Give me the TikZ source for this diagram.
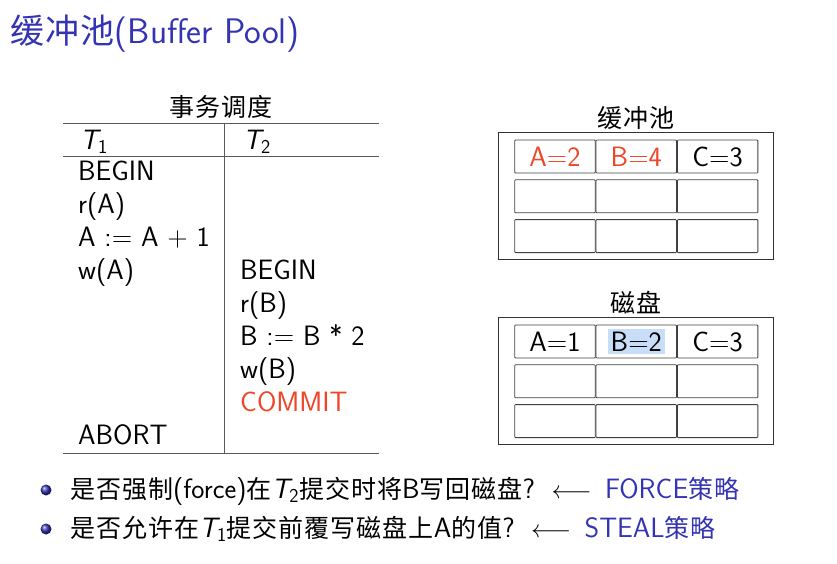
\documentclass[tikz,border=0pt]{standalone}
\usepackage{fontspec}
\usetikzlibrary{positioning}
\newfontfamily\cjk[LetterSpace=4]{Noto Sans CJK SC}
\definecolor{slideblue}{RGB}{51,51,179}
\definecolor{alertred}{RGB}{238,70,40}
\definecolor{selblue}{RGB}{200,222,248}
\tikzset{
  slidetitle/.style={anchor=base west, inner sep=0pt, text=slideblue, font=\sffamily\fontsize{35.5}{40}\selectfont},
  body/.style={anchor=base west, inner sep=0pt, font=\sffamily\fontsize{28}{33}\selectfont},
  caption/.style={inner sep=0pt, font=\fontsize{25}{30}\selectfont\cjk},
  rule/.style={draw=black!65, line width=1pt},
  frame/.style={draw=black!80, line width=1pt},
  cell/.style={draw=black!75, line width=0.8pt, rounded corners=0.8pt, minimum width=80.5pt, minimum height=33pt, inner sep=0pt, font=\sffamily\fontsize{28}{33}\selectfont},
  ballitem/.style={circle, ball color=slideblue, minimum size=11pt, inner sep=0pt}
}
\newcommand\zh[1]{{\cjk\fontsize{25}{30}\selectfont #1}}
\begin{document}
\begin{tikzpicture}[x=1pt,y=-1pt]
\useasboundingbox (0,0) rectangle (837,563);
% title
\node[slidetitle] (title) at (10,43) {{\cjk\fontsize{34}{40}\selectfont 缓冲池}(Buffer Pool)};
% schedule
\node[caption] (schedcap) at (221,107) {事务调度};
\draw[rule] (63,123) -- (379,123);
\draw[rule] (63,156) -- (379,156);
\draw[rule] (63,453) -- (379,453);
\draw[rule] (224,123) -- (224,453);
\node[body] (hdone) at (80,149) {{\itshape T}\textsubscript{1}};
\node[body] (hdtwo) at (243,149) {{\itshape T}\textsubscript{2}};
\node[body] (beginA) at (78,180) {BEGIN};
\node[body] (readA) at (78,213) {r(A)};
\node[body] (incA) at (78,246) {A := A + 1};
\node[body] (writeA) at (78,279) {w(A)};
\node[body] (abort) at (78,444) {ABORT};
\node[body] (beginB) at (240,279) {BEGIN};
\node[body] (readB) at (240,312) {r(B)};
\node[body] (dblB) at (240,345) {B := B * 2};
\node[body] (writeB) at (240,378) {w(B)};
\node[body, text=alertred] (commit) at (240,411) {COMMIT};
% buffer pool
\node[caption] (bufcap) at (636,118) {缓冲池};
\draw[frame] (498,132) rectangle (773,259);
\node[cell, text=alertred] (bufA) at (555,156.5) {A=2};
\node[cell, text=alertred, right=0pt of bufA] (bufB) {B=4};
\node[cell, right=0pt of bufB] (bufC) {C=3};
\node[cell, below=6pt of bufA] (bufD) {};
\node[cell, right=0pt of bufD] (bufE) {};
\node[cell, right=0pt of bufE] (bufF) {};
\node[cell, below=6pt of bufD] (bufG) {};
\node[cell, right=0pt of bufG] (bufH) {};
\node[cell, right=0pt of bufH] (bufI) {};
% disk
\node[caption] (dskcap) at (636,303) {磁盘};
\draw[frame] (498,317) rectangle (773,444);
\node[cell] (dskA) at (555,341.5) {A=1};
\node[cell, right=0pt of dskA] (dskB) {\fboxsep=3pt\colorbox{selblue}{B=2}};
\node[cell, right=0pt of dskB] (dskC) {C=3};
\node[cell, below=6pt of dskA] (dskD) {};
\node[cell, right=0pt of dskD] (dskE) {};
\node[cell, right=0pt of dskE] (dskF) {};
\node[cell, below=6pt of dskD] (dskG) {};
\node[cell, right=0pt of dskG] (dskH) {};
\node[cell, right=0pt of dskH] (dskI) {};
% questions
\node[ballitem] (dotone) at (46,490) {};
\node[ballitem] (dottwo) at (46,529) {};
\node[body] (qone) at (70,498) {\zh{是否强制}(force)\zh{在}{\itshape T}\textsubscript{2}\zh{提交时将}B\zh{写回磁盘}?\, $\longleftarrow$\, \textcolor{slideblue}{FORCE\zh{策略}}};
\node[body] (qtwo) at (70,537) {\zh{是否允许在}{\itshape T}\textsubscript{1}\zh{提交前覆写磁盘上}A\zh{的值}?\, $\longleftarrow$\, \textcolor{slideblue}{STEAL\zh{策略}}};
\end{tikzpicture}
\end{document}
